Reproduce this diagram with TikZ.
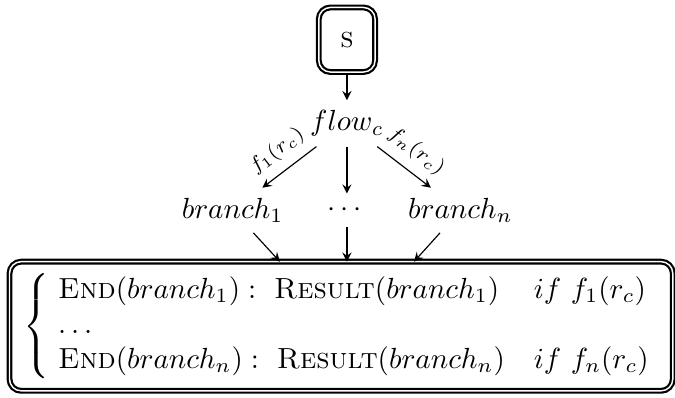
\documentclass[tikz,border=0pt]{standalone}
\usepackage{amsmath}
\usepackage{tikz}
\usetikzlibrary{arrows}
\tikzset{>=stealth}
\usetikzlibrary{shapes,positioning}

\begin{document}
\begin{tikzpicture}[startbox/.style={draw,double,line width=0.75pt,double distance=0.5pt,rounded corners=4pt,minimum width=0.68cm,minimum height=0.78cm},
  endbox/.style={draw,double,line width=0.75pt,double distance=0.5pt,rounded corners=4pt,minimum height=1.56cm,text width=7.67cm,inner xsep=0.17cm,align=left}]
  \useasboundingbox (0,0) rectangle (8.152,-4.795);
  \node [startbox] (start) at (4.19,-0.48) {\textsc{s}};
  \node (flow) at (4.19,-1.49) {$flow_c$};
  \node (br1) at (2.81,-2.54) {$branch_1$};
  \node (brdots) at (4.19,-2.54) {$\cdots$};
  \node (brn) at (5.56,-2.54) {$branch_n$};
  \node [endbox] (res) at (4.12,-3.94) {$\left\{\begin{array}{@{\hspace{3pt}}l@{\quad}l@{}}
      \textsc{End}(branch_1):\ \textsc{Result}(branch_1) & if\ f_1(r_c)\\
      \dots\\
      \textsc{End}(branch_n):\ \textsc{Result}(branch_n) & if\ f_n(r_c)
    \end{array}\right.$};
  \coordinate (in1) at (3.38,-3.16);
  \coordinate (in2) at (4.19,-3.16);
  \coordinate (in3) at (5.00,-3.16);

  \draw [->] (start) -- (flow);
  \draw [->] (flow) -- node [sloped,above,font=\scriptsize] {$f_1(r_c)$} (br1);
  \draw [->] (flow) -- (brdots);
  \draw [->] (flow) -- node [sloped,above,font=\scriptsize] {$f_n(r_c)$} (brn);
  \draw [->] (br1) -- (in1);
  \draw [->] (brdots) -- (in2);
  \draw [->] (brn) -- (in3);
\end{tikzpicture}
\end{document}
